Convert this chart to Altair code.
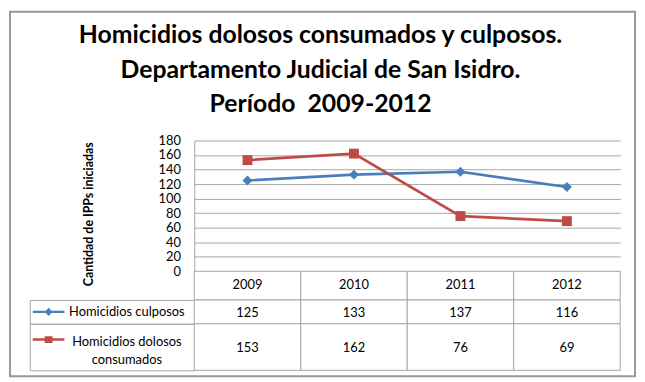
import altair as alt
import pandas as pd

# ---------------- data ----------------
title_lines = [
    "Homicidios dolosos consumados y culposos.",
    "Departamento Judicial de San Isidro.",
    "Período\u00a0 2009-2012",
]
y_title = "Cantidad de IPPs iniciadas"
years = ["2009", "2010", "2011", "2012"]
series = ["Homicidios culposos", "Homicidios dolosos consumados"]
row_labels = ["Homicidios culposos", "Homicidios dolosos\nconsumados"]
culposos = [125, 133, 137, 116]
dolosos = [153, 162, 76, 69]
y_ticks = [0, 20, 40, 60, 80, 100, 120, 140, 160, 180]
colors = ["#4A7EBB", "#BE4B48"]
shapes = ["diamond", "square"]
key_shapes = [
    "M-1,0L1,0M-0.14,0L0,-0.15L0.14,0L0,0.15Z",
    "M-1,0L1,0M-0.17,-0.13L0.17,-0.13L0.17,0.13L-0.17,0.13Z",
]

# ---------------- style ----------------
FONT = "Lato"
GRAY = "#A6A6A6"
PLOT_W, LABEL_W, PLOT_H = 430, 166, 132
HEAD_H = 29
ROW_H = [24, 47]
KEY_DY = [0, -7.5]
LABEL_DY = [0, -5.5]

values_by_series = [culposos, dolosos]
long_df = pd.DataFrame({
    "year": years * 2,
    "serie": [s for s in series for _ in years],
    "value": culposos + dolosos,
})

# ---------------- line chart ----------------
x_point = alt.X("year:N", scale=alt.Scale(type="point", domain=years, padding=0.5), axis=None)
y_val = alt.Y(
    "value:Q",
    scale=alt.Scale(domain=[0, 180], nice=False),
    axis=alt.Axis(
        values=y_ticks, grid=True, gridColor=GRAY, gridWidth=1,
        domain=True, domainColor=GRAY, ticks=False,
        labelPadding=14, labelFont=FONT, labelFontSize=13, labelColor="#000000",
        title=y_title, titleFont=FONT, titleFontSize=12.5, titleFontWeight="bold",
        titleColor="#000000", titleX=-100, titleY=74,
    ),
)
color = alt.Color("serie:N", scale=alt.Scale(domain=series, range=colors), legend=None)
shape = alt.Shape("serie:N", scale=alt.Scale(domain=series, range=shapes), legend=None)

base = alt.Chart(long_df)
lines = base.mark_line(strokeWidth=2.75).encode(x=x_point, y=y_val, color=color)
pts = base.mark_point(filled=True, opacity=1, size=100).encode(
    x=x_point, y=y_val, color=color, shape=shape
)
plot = alt.layer(lines, pts).properties(width=PLOT_W, height=PLOT_H)

frame = alt.Chart(pd.DataFrame({"k": [0]})).mark_rect(
    fill="transparent", stroke="#989898", strokeWidth=2
).encode(
    x=alt.value(-20), x2=alt.value(611), y=alt.value(-130), y2=alt.value(238)
).properties(width=LABEL_W, height=PLOT_H)

# ---------------- data table ----------------
x_band = alt.X("year:N", scale=alt.Scale(type="band", domain=years, paddingInner=0, paddingOuter=0), axis=None)

head_df = pd.DataFrame({"year": years})
head_cells = alt.Chart(head_df).mark_rect(fill="white", stroke=GRAY, strokeWidth=1).encode(x=x_band)
head_text = alt.Chart(head_df).mark_text(font=FONT, fontSize=13, color="#000000", dy=-1).encode(
    x=x_band, text="year:N"
)
header = alt.layer(head_cells, head_text).properties(width=PLOT_W, height=HEAD_H)
blank = alt.Chart(head_df).mark_point(opacity=0).encode(color=alt.value("white")).properties(
    width=LABEL_W, height=HEAD_H
)

cells_list = [frame, plot, blank, header]
for i in range(len(series)):
    rdf = pd.DataFrame({"year": years, "value": values_by_series[i]})
    cells = alt.Chart(rdf).mark_rect(fill="white", stroke=GRAY, strokeWidth=1).encode(x=x_band)
    txt = alt.Chart(rdf).mark_text(font=FONT, fontSize=13, color="#000000", dy=1).encode(
        x=x_band, text="value:Q"
    )
    vals = alt.layer(cells, txt).properties(width=PLOT_W, height=ROW_H[i])

    ldf = pd.DataFrame({"serie": [series[i]], "label": [row_labels[i]]})
    key = alt.Chart(ldf).mark_point(
        shape=key_shapes[i], size=1024, filled=True, opacity=1,
        stroke=colors[i], strokeWidth=2.5, xOffset=-64, yOffset=KEY_DY[i],
    ).encode(color=alt.value(colors[i]))
    lab = alt.Chart(ldf).mark_text(
        font=FONT, fontSize=13, color="#000000", align="center",
        lineBreak="\n", lineHeight=19, dx=15, dy=LABEL_DY[i],
    ).encode(text="label:N")
    label_cell = alt.layer(key, lab).properties(
        width=LABEL_W, height=ROW_H[i], view=alt.ViewBackground(stroke=GRAY)
    )
    cells_list += [label_cell, vals]

chart = alt.concat(
    *cells_list, columns=2, spacing=0, bounds="flush", align="each",
    title=alt.TitleParams(
        text=title_lines, anchor="middle", frame="bounds", font=FONT, fontSize=25,
        fontWeight="bold", color="#000000", lineHeight=34.5, baseline="bottom",
        offset=0, dy=132.5, dx=-2,
    ),
).resolve_scale(x="independent").properties(
    padding={"left": 0, "top": 0, "right": 0, "bottom": 0}, background="white"
).configure_view(stroke="transparent")

chart.save("out.html", embed_options={"renderer": "svg", "actions": False})
